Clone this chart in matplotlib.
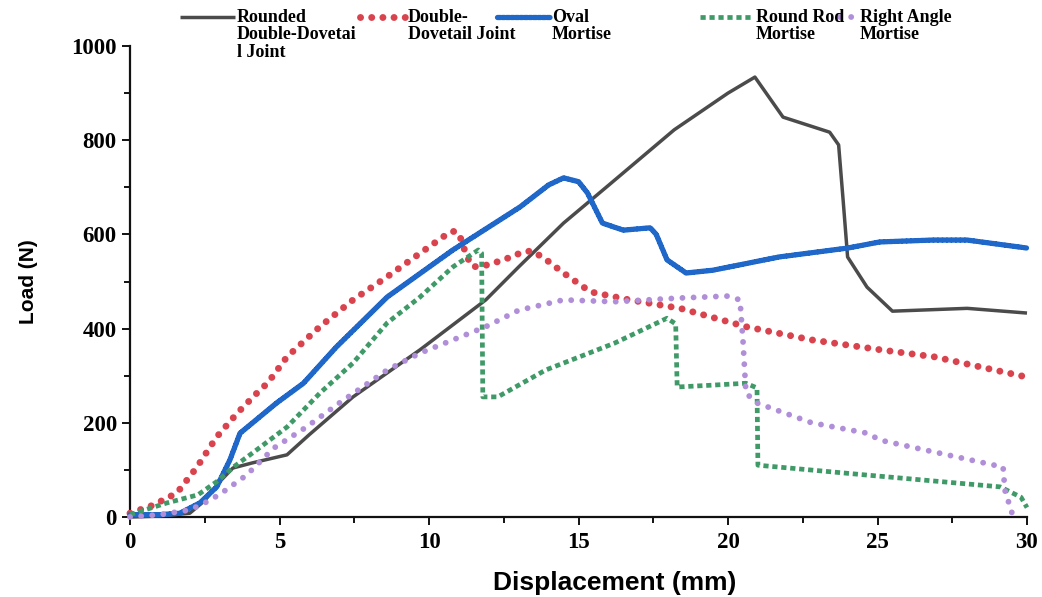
import matplotlib.pyplot as plt
from matplotlib.lines import Line2D
from matplotlib.ticker import MultipleLocator

# load-displacement curves
rdd_x = [0, 1.0, 2.0, 2.5, 3.0, 3.44, 4.1, 5.25, 6.0, 7.46, 9.7, 11.9, 13.0, 14.5, 16.0,
         18.2, 20.0, 20.9, 21.84, 23.4, 23.7, 23.85, 24.0, 24.65, 25.5, 28.0, 30.0]
rdd_y = [0, 2, 8, 35, 75, 104, 115, 132, 175, 255, 355, 461, 531, 624, 704,
         822, 900, 934, 849, 817, 790, 673, 552, 488, 437, 443, 433]

dd_x = [0, 0.77, 1.57, 2.24, 2.61, 2.9, 3.58, 4.35, 4.6, 5.25, 6.35, 7.46, 8.6, 9.7, 10.7,
        10.9, 11.04, 11.27, 11.47, 11.94, 12.5, 13.04, 13.4, 13.8, 14.5, 15.4, 16.7,
        18.4, 20.6, 22.8, 25.1, 26.9, 30]
dd_y = [8, 25, 51, 106, 142, 170, 220, 270, 284, 340, 404, 461, 510, 560, 605,
        607, 595, 552, 531, 535, 546, 560, 565, 552, 518, 478, 461,
        443, 404, 376, 355, 340, 297]

oval_x = [0, 1.0, 1.67, 2.34, 2.9, 3.34, 3.68, 4.1, 4.9, 5.8, 6.9, 8.6, 10.8, 13.04, 14.0,
          14.5, 15.0, 15.3, 15.8, 16.5, 17.4, 17.6, 17.96, 18.6, 19.5, 21.7, 24.0, 25.08,
          26.86, 28.0, 30]
oval_y = [5, 5, 8, 30, 64, 121, 178, 200, 242, 284, 361, 467, 567, 658, 705,
          720, 712, 688, 624, 609, 614, 600, 546, 518, 524, 552, 571, 584,
          588, 588, 571]

rod_x = [0, 1.24, 2.27, 2.9, 3.5, 4.1, 5.25, 6.35, 7.46, 8.6, 9.7, 10.8, 11.65, 11.76,
         11.8, 12.3, 13.9, 16.2, 17.96, 18.25, 18.3, 19.5, 20.6, 20.97, 21.0, 24.65,
         29.1, 29.8, 30]
rod_y = [5, 30, 47, 75, 108, 136, 191, 263, 327, 412, 467, 531, 567, 560,
         255, 255, 312, 369, 422, 410, 276, 280, 284, 274, 110, 89,
         64, 42, 20]

ra_x = [0, 1.0, 2.0, 2.5, 3.0, 3.44, 3.9, 4.8, 5.9, 7.0, 8.6, 9.7, 10.8, 11.9, 13.0, 14.5,
        16.2, 18.4, 19.97, 20.4, 20.5, 20.6, 20.97, 22.8, 24.65, 25.1, 29.2, 29.26,
        29.5, 29.6]
ra_y = [0, 5, 15, 30, 48, 68, 89, 146, 191, 242, 312, 348, 376, 404, 439, 461,
        457, 465, 469, 461, 376, 263, 242, 200, 178, 163, 106, 57,
        8, 0]

labels = ["Rounded\nDouble-Dovetai\nl Joint", "Double-\nDovetail Joint", "Oval\nMortise",
          "Round Rod\nMortise", "Right Angle\nMortise"]
colors = ["#4b4b4b", "#d9434e", "#1f68c9", "#3f9a68", "#b08fd8"]

styles = [
    dict(lw=2.5, solid_capstyle="butt"),
    dict(lw=5.0, dashes=(0.01, 1.6), dash_capstyle="round"),
    dict(lw=3.8, dashes=(0.6, 0.25), dash_capstyle="round"),
    dict(lw=3.4, dashes=(1.1, 0.8), dash_capstyle="butt"),
    dict(lw=4.2, dashes=(0.01, 1.9), dash_capstyle="round"),
]
series = [(rdd_x, rdd_y), (dd_x, dd_y), (oval_x, oval_y), (rod_x, rod_y), (ra_x, ra_y)]

W, H = 1042, 597
fig = plt.figure(figsize=(W / 100, H / 100), dpi=100)
ax = fig.add_axes([130 / W, 1 - 517 / H, (1027 - 130) / W, (517 - 46) / H])

order = [4, 3, 1, 0, 2]
for i in order:
    x, y = series[i]
    ax.plot(x, y, color=colors[i], clip_on=False, zorder=3 + i, **styles[i])

ax.set_xlim(0, 30)
ax.set_ylim(0, 1000)
ax.xaxis.set_major_locator(MultipleLocator(5))
ax.xaxis.set_minor_locator(MultipleLocator(2.5))
ax.yaxis.set_major_locator(MultipleLocator(200))
ax.yaxis.set_minor_locator(MultipleLocator(100))
for s in ["top", "right"]:
    ax.spines[s].set_visible(False)
for s in ["left", "bottom"]:
    ax.spines[s].set_linewidth(1.6)
    ax.spines[s].set_color("#111111")
ax.tick_params(which="major", direction="out", length=6, width=1.4, color="#111111")
ax.tick_params(which="minor", direction="out", length=4, width=1.4, color="#111111")
ax.tick_params(axis="x", pad=5)
for t in ax.get_xticklabels() + ax.get_yticklabels():
    t.set_fontfamily("Liberation Serif")
    t.set_fontweight("bold")
    t.set_fontsize(16.5)

ax.set_xlabel("Displacement (mm)", fontfamily="Liberation Sans", fontweight="bold",
              fontsize=19)
ax.xaxis.set_label_coords(0.54, -0.115)
ax.set_ylabel("Load (N)", fontfamily="Liberation Sans", fontweight="bold", fontsize=15)
ax.yaxis.set_label_coords(-0.103, 0.5)

# legend drawn along the top edge, handle next to the first text line
handle_x = [(180, 235), (360, 405), (497, 550), (700, 752), (840, 857)]
text_x = [237, 408, 552, 756, 860]
for i in range(5):
    x0, x1 = handle_x[i]
    yl = 1 - 17 / H
    fig.add_artist(Line2D([x0 / W, x1 / W], [yl, yl], transform=fig.transFigure,
                          color=colors[i], **styles[i]))
    fig.text(text_x[i] / W, 1 - 9 / H, labels[i], fontfamily="Liberation Serif",
             fontweight="bold", fontsize=13, va="top", ha="left", linespacing=1.03)

fig.savefig("out.png", dpi=100)
